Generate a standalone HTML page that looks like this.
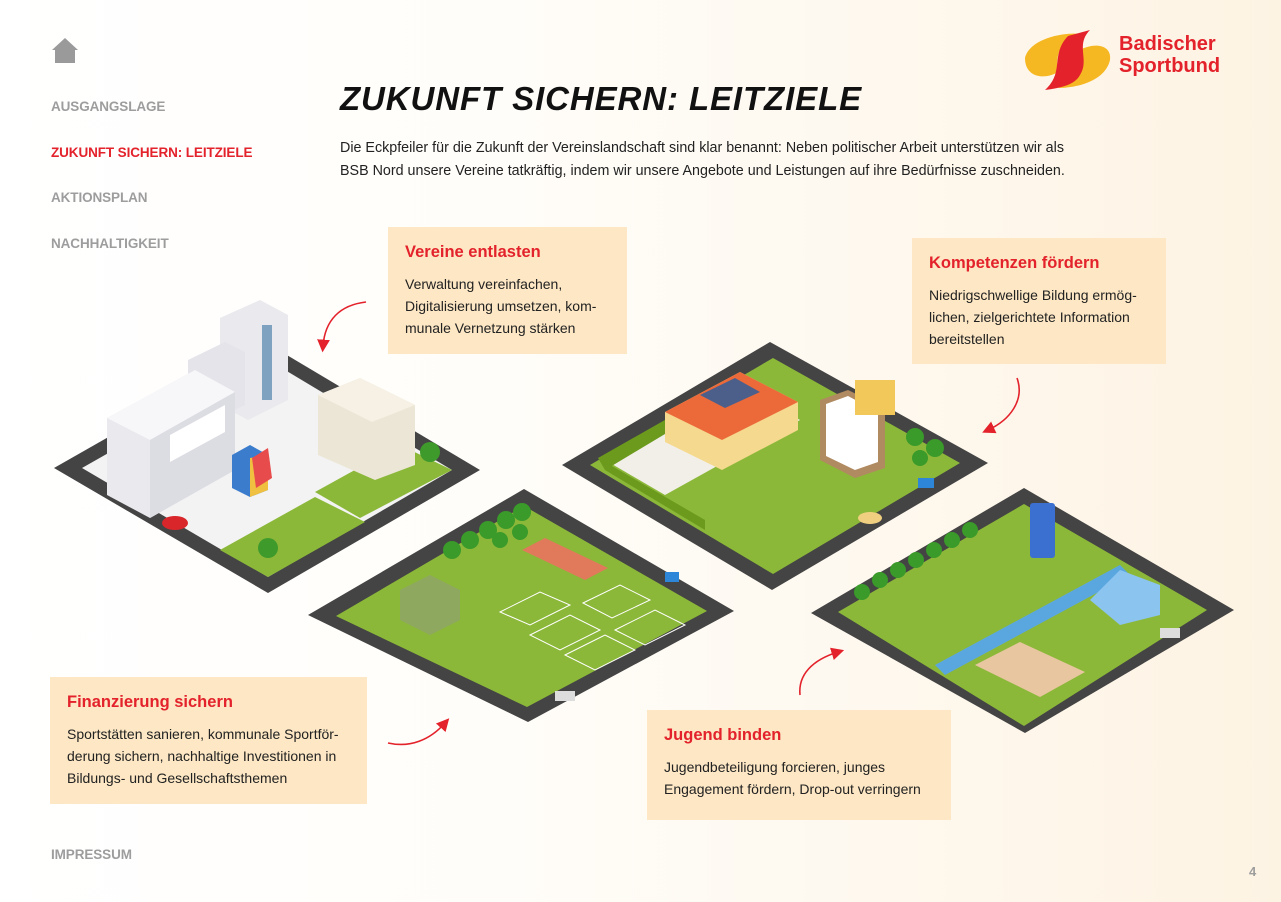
<!DOCTYPE html>
<html><head><meta charset="utf-8"><style>
html,body{margin:0;padding:0}
body{width:1281px;height:902px;position:relative;overflow:hidden;font-family:"Liberation Sans",sans-serif;background:linear-gradient(90deg,#ffffff 0%,#fffdf9 40%,#fdf3e3 100%)}
.nav{position:absolute;left:51px;font-weight:bold;font-size:13.5px;color:#9d9d9d;letter-spacing:-0.1px}
.box{position:absolute;background:#fde7c4}
.box h3{margin:0;color:#e3222b;font-size:16.5px;font-weight:bold;position:absolute;left:17px;top:16px}
.box p{margin:0;position:absolute;left:17px;top:46px;font-size:14px;line-height:22px;color:#222}
svg{position:absolute;left:0;top:0}
</style></head><body>
<svg width="1281" height="902" viewBox="0 0 1281 902">
<defs><marker id="ah" markerWidth="8" markerHeight="8" refX="4" refY="4" orient="auto"><path d="M0,0 L8,4 L0,8 Z" fill="#e3222b"/></marker></defs>
<path d="M52,50 L65,38 L78,50 L75,50 L75,63 L55,63 L55,50 Z" fill="#9a9a9a"/>
<polygon points="54,468 270,345 480,470 268,593" fill="#444"/>
<polygon points="82,468 270,361 452,470 268,577" fill="#f3f3f3"/>
<polygon points="220,550 315,497 365,522 268,577" fill="#8cb83a"/>
<polygon points="315,492 400,445 452,470 360,518" fill="#8cb83a"/>
<polygon points="220,318 260,300 288,315 288,400 248,420 220,405" fill="#e9e9ee"/>
<rect x="262" y="325" width="10" height="75" fill="#7fa2c0"/>
<polygon points="188,360 225,342 245,352 245,405 210,422 188,410" fill="#e4e4ea"/>
<polygon points="107,418 195,370 235,392 235,470 150,518 107,495" fill="#e9e9ee"/>
<polygon points="107,418 195,370 235,392 150,440" fill="#f7f7f9"/>
<polygon points="150,440 235,392 235,470 150,518" fill="#dcdce3"/>
<polygon points="170,435 225,405 225,432 170,462" fill="#fff"/>
<polygon points="318,395 360,378 415,405 415,465 375,480 318,455" fill="#ece6d6"/>
<polygon points="318,395 360,378 415,405 372,422" fill="#f6f1e4"/>
<polygon points="232,455 250,445 268,455 268,490 250,497 232,488" fill="#3b7ccc"/>
<polygon points="250,458 268,455 268,490 250,497" fill="#f0c040"/>
<polygon points="252,458 268,448 272,478 256,488" fill="#e84b4b"/>
<ellipse cx="175" cy="523" rx="13" ry="7" fill="#d9262b"/>
<circle cx="268" cy="548" r="10" fill="#3f9a2c"/><circle cx="430" cy="452" r="10" fill="#3f9a2c"/>
<polygon points="308,615 524,489 734,611 528,722" fill="#444"/>
<polygon points="336,616 524,506 707,611 527,707" fill="#8cb83a"/>
<polygon points="522,550 545,538 608,568 585,580" fill="#e07a5a"/>
<polygon points="400,590 430,575 460,590 460,620 430,635 400,620" fill="#8fa860"/>
<g fill="#3a9a2a"><circle cx="452" cy="550" r="9"/><circle cx="470" cy="540" r="9"/><circle cx="488" cy="530" r="9"/><circle cx="506" cy="520" r="9"/><circle cx="522" cy="512" r="9"/><circle cx="500" cy="540" r="8"/><circle cx="520" cy="532" r="8"/></g>
<g stroke="#fff" stroke-width="1" fill="none"><polygon points="500,612 540,592 570,605 530,625"/><polygon points="530,635 570,615 600,630 560,650"/><polygon points="565,655 605,635 635,650 595,670"/><polygon points="583,603 620,585 650,600 612,618"/><polygon points="615,630 655,610 685,625 645,645"/></g>
<rect x="665" y="572" width="14" height="10" fill="#2d86d8"/>
<rect x="555" y="691" width="20" height="10" fill="#ddd"/>
<polygon points="562,465 770,342 988,463 772,590" fill="#444"/>
<polygon points="590,465 773,358 960,463 773,574" fill="#8cb83a"/>
<polygon points="605,460 740,385 800,420 665,495" fill="#f2efe8"/>
<polygon points="598,458 700,400 705,410 605,470" fill="#6b9a1c"/>
<polygon points="605,470 705,530 705,520 605,462" fill="#6b9a1c"/>
<polygon points="665,412 740,372 798,402 798,430 722,470 665,442" fill="#f5d98e"/>
<polygon points="665,412 740,372 798,402 722,440" fill="#ec6a3a"/>
<polygon points="700,395 735,378 760,392 725,408" fill="#4c5f8a"/>
<polygon points="820,400 848,390 885,408 885,468 855,478 820,460" fill="#b08a60"/>
<polygon points="826,404 848,396 878,412 878,462 855,470 826,456" fill="#fff"/>
<rect x="855" y="380" width="40" height="35" fill="#f3c85a"/>
<g fill="#3a9a2a"><circle cx="915" cy="437" r="9"/><circle cx="935" cy="448" r="9"/><circle cx="920" cy="458" r="8"/></g>
<ellipse cx="870" cy="518" rx="12" ry="6" fill="#f0d080"/>
<rect x="918" y="478" width="16" height="10" fill="#2d86d8"/>
<polygon points="811,613 1024,488 1234,610 1025,733" fill="#444"/>
<polygon points="838,612 1024,504 1207,610 1024,726" fill="#8cb83a"/>
<polygon points="935,665 1120,565 1130,575 945,675" fill="#5aa7e0"/>
<polygon points="975,665 1020,642 1085,672 1040,697" fill="#e8c6a0"/>
<rect x="1030" y="503" width="25" height="55" rx="3" fill="#3c70d0"/>
<polygon points="1090,600 1120,570 1160,585 1160,615 1120,625" fill="#8cc4f0"/>
<g fill="#3a9a2a"><circle cx="862" cy="592" r="8"/><circle cx="880" cy="580" r="8"/><circle cx="898" cy="570" r="8"/><circle cx="916" cy="560" r="8"/><circle cx="934" cy="550" r="8"/><circle cx="952" cy="540" r="8"/><circle cx="970" cy="530" r="8"/></g>
<rect x="1160" y="628" width="20" height="10" fill="#ddd"/>
<g stroke="#e3222b" stroke-width="1.6" fill="none" marker-end="url(#ah)">
<path d="M366,302 C340,305 325,320 323,346"/>
<path d="M1017,378 C1025,400 1010,420 988,430"/>
<path d="M388,743 C410,748 430,740 445,723"/>
<path d="M800,695 C798,675 812,660 838,652"/>
</g>
<path d="M1025,58 C1030,38 1065,32 1080,34 C1060,40 1055,55 1058,72 C1045,80 1025,78 1025,58Z" fill="#f6b822"/>
<path d="M1110,60 C1105,82 1075,88 1058,88 C1078,80 1085,66 1080,50 C1095,42 1112,45 1110,60Z" fill="#f6b822"/>
<path d="M1068,36 L1090,30 C1075,45 1090,60 1080,75 C1075,85 1060,88 1045,90 C1065,72 1050,55 1068,36Z" fill="#e3222b"/>
</svg>
<div style="position:absolute;left:1119px;top:33px;color:#e3222b;font-size:20px;line-height:22px;font-weight:bold">Badischer<br>Sportbund</div>
<div class="nav" style="top:99px">AUSGANGSLAGE</div>
<div class="nav" style="top:145px;color:#e3222b">ZUKUNFT SICHERN: LEITZIELE</div>
<div class="nav" style="top:190px">AKTIONSPLAN</div>
<div class="nav" style="top:236px">NACHHALTIGKEIT</div>
<div class="nav" style="top:847px">IMPRESSUM</div>
<div style="position:absolute;left:1249px;top:864px;font-size:13px;font-weight:bold;color:#9d9d9d">4</div>
<div style="position:absolute;left:340px;top:80px;font-size:33px;font-weight:bold;font-style:italic;color:#111;letter-spacing:0.9px">ZUKUNFT SICHERN: LEITZIELE</div>
<div style="position:absolute;left:340px;top:137px;font-size:14.3px;line-height:23px;color:#222">Die Eckpfeiler für die Zukunft der Vereinslandschaft sind klar benannt: Neben politischer Arbeit unterstützen wir als<br>BSB Nord unsere Vereine tatkräftig, indem wir unsere Angebote und Leistungen auf ihre Bedürfnisse zuschneiden.</div>
<div class="box" style="left:388px;top:227px;width:239px;height:127px"><h3>Vereine entlasten</h3><p>Verwaltung vereinfachen,<br>Digitalisierung umsetzen, kom-<br>munale Vernetzung stärken</p></div>
<div class="box" style="left:912px;top:238px;width:254px;height:126px"><h3>Kompetenzen fördern</h3><p>Niedrigschwellige Bildung ermög-<br>lichen, zielgerichtete Information<br>bereitstellen</p></div>
<div class="box" style="left:50px;top:677px;width:317px;height:127px"><h3>Finanzierung sichern</h3><p>Sportstätten sanieren, kommunale Sportför-<br>derung sichern, nachhaltige Investitionen in<br>Bildungs- und Gesellschaftsthemen</p></div>
<div class="box" style="left:647px;top:710px;width:304px;height:110px"><h3>Jugend binden</h3><p>Jugendbeteiligung forcieren, junges<br>Engagement fördern, Drop-out verringern</p></div>
</body></html>
